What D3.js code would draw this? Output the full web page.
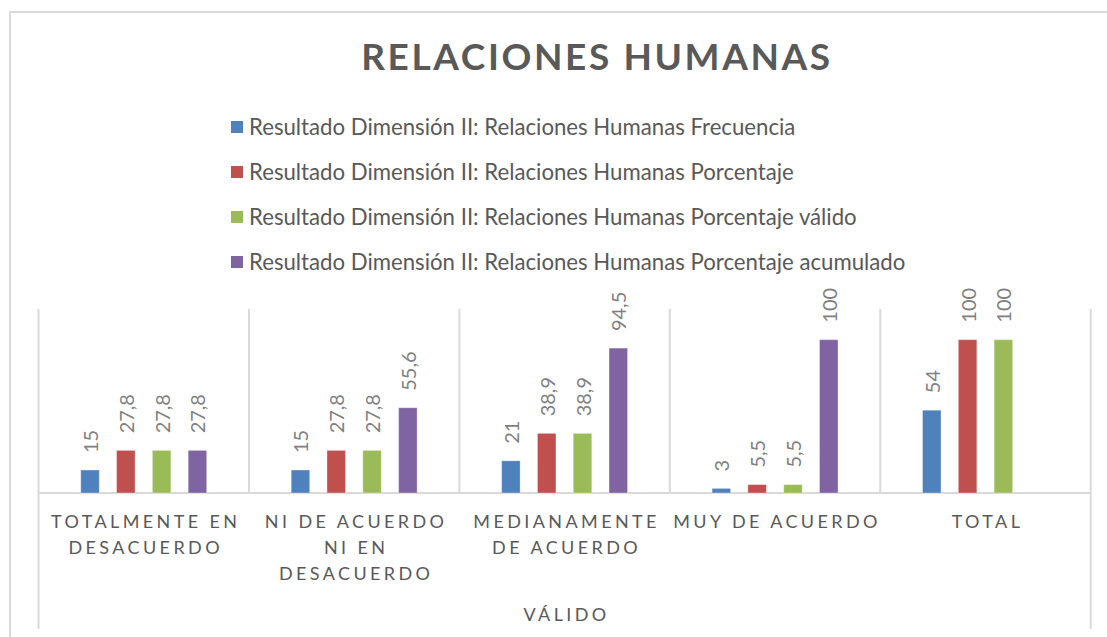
<!DOCTYPE html>
<html lang="es">
<head>
  <meta charset="UTF-8">
  <title>Relaciones Humanas</title>
  <style type="text/css">
    html, body { margin: 0; padding: 0; background: #fff; }
    svg { display: block; font-family: Lato, "Open Sans", sans-serif; }
  </style>
</head>
<body>
<figure id="chart" style="margin:0"></figure>
<script src="https://cdn.jsdelivr.net/npm/d3@7"></script>
<script type="text/javascript">
  // data
  var categories = ["Totalmente en desacuerdo", "Ni de acuerdo ni en desacuerdo", "Medianamente de acuerdo", "Muy de acuerdo", "Total"];
  var categoryLines = [["TOTALMENTE EN", "DESACUERDO"], ["NI DE ACUERDO", "NI EN", "DESACUERDO"], ["MEDIANAMENTE", "DE ACUERDO"], ["MUY DE ACUERDO"], ["TOTAL"]];
  var groupLabel = "VÁLIDO";
  var series = [
    "Resultado Dimensión II: Relaciones Humanas Frecuencia",
    "Resultado Dimensión II: Relaciones Humanas Porcentaje",
    "Resultado Dimensión II: Relaciones Humanas Porcentaje válido",
    "Resultado Dimensión II: Relaciones Humanas Porcentaje acumulado"
  ];
  var frecuencia = [15, 15, 21, 3, 54];
  var porcentaje = [27.8, 27.8, 38.9, 5.5, 100];
  var porcentajeValido = [27.8, 27.8, 38.9, 5.5, 100];
  var porcentajeAcumulado = [27.8, 55.6, 94.5, 100, null];
  var colors = ["#4F81BD", "#C0504D", "#9BBB59", "#8064A2"];

  var width = 1107, height = 637;
  var values = [frecuencia, porcentaje, porcentajeValido, porcentajeAcumulado];
  var fmt = function(v) { return String(v).replace(".", ","); };

  var svg = d3.select("#chart").append("svg")
    .attr("width", width)
    .attr("height", height);

  // chart frame (cut off on the right and bottom)
  svg.append("path")
    .attr("d", "M10,640V12H1110")
    .attr("fill", "none")
    .attr("stroke", "#d9d9d9")
    .attr("stroke-width", 2);

  svg.append("text")
    .attr("x", 597)
    .attr("y", 70)
    .attr("text-anchor", "middle")
    .attr("font-size", 37)
    .attr("font-weight", "bold")
    .attr("letter-spacing", 2.6)
    .attr("fill", "#595959")
    .text("RELACIONES HUMANAS");

  // legend
  var legend = svg.append("g").selectAll("g")
    .data(series)
    .join("g")
    .attr("transform", function(d, i) { return "translate(231," + (127 + i * 45) + ")"; });
  legend.append("rect")
    .attr("y", -6).attr("width", 12).attr("height", 12)
    .attr("fill", function(d, i) { return colors[i]; });
  legend.append("text")
    .attr("x", 18)
    .attr("dy", "0.35em")
    .attr("font-size", 22.2)
    .attr("fill", "#595959")
    .text(function(d) { return d; });

  var x0 = d3.scaleBand().domain(categories).range([38.5, 1090.7]).padding(0);
  var x1 = d3.scaleBand().domain(d3.range(series.length)).range([0, x0.bandwidth()])
    .paddingInner(0.483).paddingOuter(1.18);
  var y = d3.scaleLinear().domain([0, 120]).range([493, 309]);

  // category separators
  var edges = categories.map(function(c) { return x0(c); }).concat([x0.range()[1]]);
  svg.append("g").selectAll("line")
    .data(edges)
    .join("line")
    .attr("x1", function(d) { return d; })
    .attr("x2", function(d) { return d; })
    .attr("y1", y(120))
    .attr("y2", function(d, i) { return (i === 0 || i === edges.length - 1) ? 629 : y(0); })
    .attr("stroke", "#d9d9d9")
    .attr("stroke-width", 2);

  svg.append("line")
    .attr("x1", x0.range()[0]).attr("x2", x0.range()[1])
    .attr("y1", y(0)).attr("y2", y(0))
    .attr("stroke", "#d9d9d9")
    .attr("stroke-width", 2);

  var cells = [];
  categories.forEach(function(c, ci) {
    values.forEach(function(arr, si) {
      if (arr[ci] != null) cells.push({ cat: c, s: si, v: arr[ci] });
    });
  });

  svg.append("g").selectAll("rect")
    .data(cells)
    .join("rect")
    .attr("x", function(d) { return x0(d.cat) + x1(d.s); })
    .attr("y", function(d) { return y(d.v); })
    .attr("width", x1.bandwidth())
    .attr("height", function(d) { return y(0) - y(d.v); })
    .attr("fill", function(d) { return colors[d.s]; })
    .attr("stroke", "rgba(255,255,255,0.35)")
    .attr("stroke-width", 1);

  svg.append("g").selectAll("text")
    .data(cells)
    .join("text")
    .attr("transform", function(d) {
      return "translate(" + (x0(d.cat) + x1(d.s) + x1.bandwidth() / 2 + 1) + "," + (y(d.v) - 17) + ") rotate(-90)";
    })
    .attr("dy", "0.35em")
    .attr("font-size", 20)
    .attr("fill", "#7f7f7f")
    .text(function(d) { return fmt(d.v); });

  // category labels
  var labels = svg.append("g").selectAll("text")
    .data(categories)
    .join("text")
    .attr("text-anchor", "middle")
    .attr("font-size", 18)
    .attr("letter-spacing", 3.4)
    .attr("fill", "#595959");
  labels.selectAll("tspan")
    .data(function(d, i) { return categoryLines[i].map(function(l) { return { l: l, c: d }; }); })
    .join("tspan")
    .attr("x", function(d) { return x0(d.c) + x0.bandwidth() / 2 + 2; })
    .attr("y", function(d, i) { return 528 + i * 26; })
    .text(function(d) { return d.l; });

  svg.append("text")
    .attr("x", (x0.range()[0] + x0.range()[1]) / 2 + 2)
    .attr("y", 621)
    .attr("text-anchor", "middle")
    .attr("font-size", 18)
    .attr("letter-spacing", 3.4)
    .attr("fill", "#595959")
    .text(groupLabel);
</script>
</body>
</html>
